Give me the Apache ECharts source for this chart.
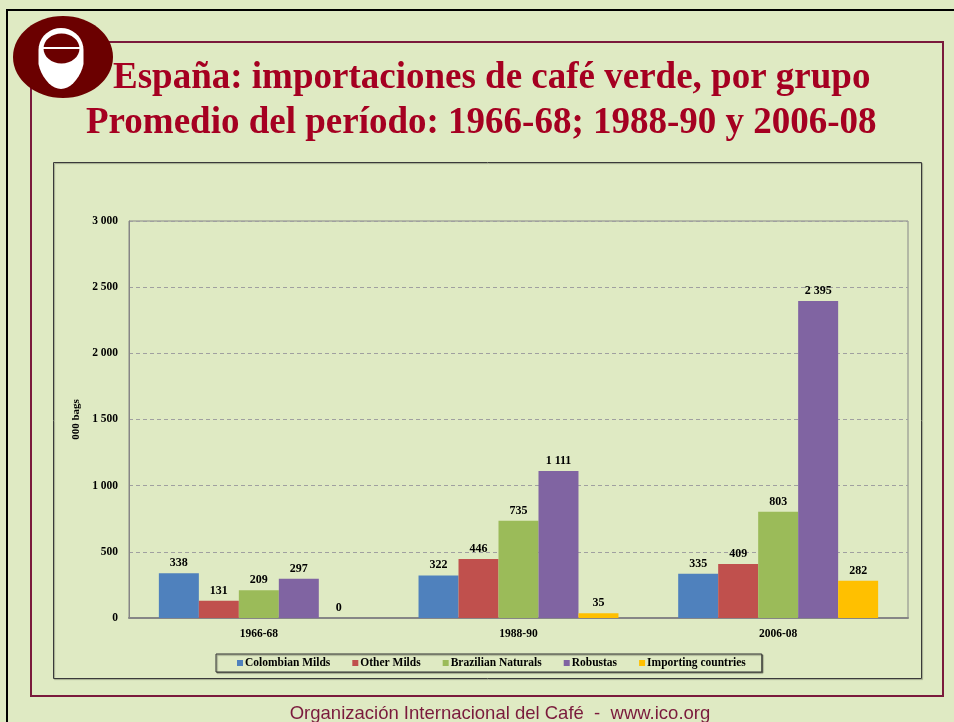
<!DOCTYPE html>
<html lang="es">
<head>
    <meta charset="UTF-8">
    <title>España: importaciones de café verde</title>
    <style>
        html, body { margin: 0; padding: 0; background: #dfeac3; }
        #root { width: 954px; height: 722px; }
    </style>
</head>
<body>
    <div id="root"></div>
    <script src="https://cdn.jsdelivr.net/npm/echarts@6/dist/echarts.min.js"></script>
    <script>
        // periods and groups
        var periods = ["1966-68", "1988-90", "2006-08"];
        var groups = ["Colombian Milds", "Other Milds", "Brazilian Naturals", "Robustas", "Importing countries"];
        var colombianMilds = [338, 322, 335];
        var otherMilds = [131, 446, 409];
        var brazilianNaturals = [209, 735, 803];
        var robustas = [297, 1111, 2395];
        var importingCountries = [0, 35, 282];
        var groupColors = ["#4f81bd", "#c0504d", "#9bbb59", "#8064a2", "#ffc000"];

        var titleLines = [
            "España: importaciones de café verde, por grupo",
            "Promedio del período: 1966-68; 1988-90 y 2006-08"
        ];
        var footer = "Organización Internacional del Café  -  www.ico.org";

        var serif = "'Liberation Serif', 'Times New Roman', serif";

        function spaced(v) {
            return String(v).replace(/\B(?=(\d{3})+(?!\d))/g, " ");
        }

        // logo cup outline: round top, narrower rounded bottom
        function cupPoints() {
            var pts = [];
            for (var a = 180; a <= 360; a += 10) {
                var r = a * Math.PI / 180;
                pts.push([61 + 22.5 * Math.cos(r), 50 + 22 * Math.sin(r)]);
            }
            pts.push([83.5, 64]);
            for (var b = 0; b <= 180; b += 10) {
                var s = b * Math.PI / 180;
                pts.push([61 + 22.5 * Math.cos(s) * (1 - 0.2 * Math.sin(s)), 64 + 25 * Math.sin(s)]);
            }
            pts.push([38.5, 64]);
            return pts;
        }

        var seriesData = [colombianMilds, otherMilds, brazilianNaturals, robustas, importingCountries];
        var series = seriesData.map(function (vals, i) {
            return {
                name: groups[i],
                type: "bar",
                data: vals,
                barGap: "0%",
                barCategoryGap: "23%",
                itemStyle: { color: groupColors[i] },
                label: {
                    show: true,
                    position: "top",
                    distance: 4,
                    color: "#000",
                    fontFamily: serif,
                    fontWeight: "bold",
                    fontSize: 12,
                    formatter: function (p) { return spaced(p.value); }
                }
            };
        });

        var chart = echarts.init(document.getElementById("root"));
        chart.setOption({
            backgroundColor: "#dfeac3",
            animation: false,
            graphic: [
                // outer black border
                { type: "rect", shape: { x: 7, y: 10, width: 960, height: 730 },
                  style: { fill: "none", stroke: "#000", lineWidth: 2 }, z: 1 },
                // maroon frame
                { type: "rect", shape: { x: 31, y: 42, width: 912, height: 654 },
                  style: { fill: "none", stroke: "#7a1a3c", lineWidth: 2 }, z: 1 },
                // chart frame
                { type: "rect", shape: { x: 53.5, y: 162.5, width: 868, height: 516 },
                  style: { fill: "none", stroke: "#3a3a3a", lineWidth: 1, shadowColor: "rgba(0,0,0,0.3)", shadowOffsetX: 1, shadowOffsetY: 1, shadowBlur: 1 }, z: 1 },
                // logo
                { type: "ellipse", shape: { cx: 63, cy: 57, rx: 50, ry: 41 },
                  style: { fill: "#6b0000" }, z: 5 },
                { type: "polygon", shape: { points: cupPoints() },
                  style: { fill: "#fff" }, z: 6 },
                { type: "ellipse", shape: { cx: 61.5, cy: 48.5, rx: 18, ry: 15 },
                  style: { fill: "#6b0000" }, z: 7 },
                { type: "line", shape: { x1: 43, y1: 48, x2: 80, y2: 48 },
                  style: { stroke: "#fff", lineWidth: 2 }, z: 8 },
                // title
                { type: "text", left: 113, top: 60, z: 4,
                  style: { text: titleLines[0], fill: "#a50021", font: "bold 37px " + serif } },
                { type: "text", left: 86, top: 105, z: 4,
                  style: { text: titleLines[1], fill: "#a50021", font: "bold 37px " + serif } },
                // footer
                { type: "text", x: 500, y: 714, z: 4,
                  style: { text: footer, fill: "#7a1a3c", font: "18.5px 'Liberation Sans', Arial, sans-serif", align: "center", verticalAlign: "middle" } }
            ],
            grid: {
                left: 129,
                right: 46,
                top: 221,
                bottom: 104,
                show: true,
                borderColor: "#868686",
                borderWidth: 1,
                backgroundColor: "transparent"
            },
            legend: {
                data: groups,
                left: 216,
                top: 654,
                icon: "rect",
                itemWidth: 6,
                itemHeight: 6,
                itemGap: 22,
                padding: [3, 16, 3, 21],
                borderColor: "#333",
                borderWidth: 1,
                shadowColor: "rgba(0,0,0,0.4)",
                shadowOffsetX: 1,
                shadowOffsetY: 1,
                shadowBlur: 1,
                backgroundColor: "#dfeac3",
                textStyle: {
                    fontFamily: serif,
                    fontWeight: "bold",
                    fontSize: 11.5,
                    color: "#000",
                    padding: [0, 0, 0, -3]
                }
            },
            xAxis: {
                type: "category",
                data: periods,
                axisLine: { lineStyle: { color: "#868686", width: 2 } },
                axisTick: { show: false },
                axisLabel: {
                    margin: 10,
                    color: "#000",
                    fontFamily: serif,
                    fontWeight: "bold",
                    fontSize: 11.5
                }
            },
            yAxis: {
                type: "value",
                min: 0,
                max: 3000,
                interval: 500,
                name: "000 bags",
                nameLocation: "middle",
                nameGap: 47,
                nameTextStyle: {
                    color: "#000",
                    fontFamily: serif,
                    fontWeight: "bold",
                    fontSize: 11
                },
                axisLine: { show: true, lineStyle: { color: "#868686" } },
                axisTick: { show: false },
                splitLine: { lineStyle: { color: "#a0a0a0", type: [4, 3] } },
                axisLabel: {
                    margin: 11,
                    color: "#000",
                    fontFamily: serif,
                    fontWeight: "bold",
                    fontSize: 11.5,
                    formatter: function (v) { return spaced(v); }
                }
            },
            series: series
        });
    </script>
</body>
</html>
